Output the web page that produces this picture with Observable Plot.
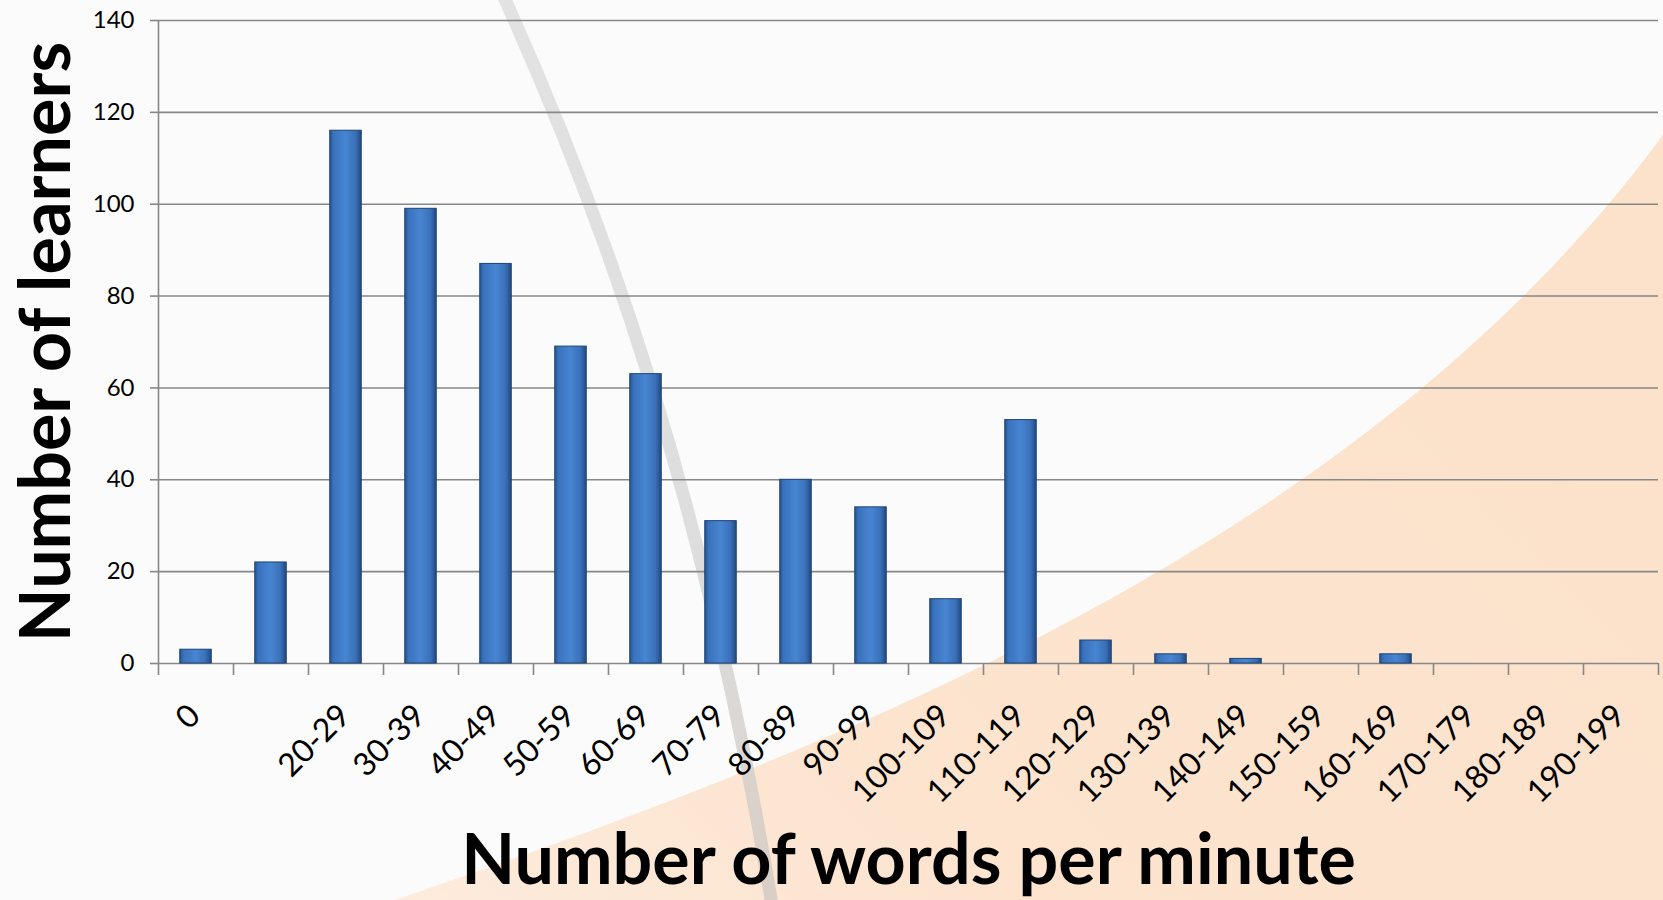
<!DOCTYPE html>
<html>
<head>
<meta charset="utf-8">
<script src="https://cdn.jsdelivr.net/npm/d3@7"></script>
<script src="https://cdn.jsdelivr.net/npm/@observablehq/plot@0.6"></script>
<style>
html, body { margin: 0; padding: 0; background: #fbfbfb; }
#wrap { position: relative; width: 1663px; height: 900px; overflow: hidden; }
#bg { position: absolute; left: 0; top: 0; }
#chart { position: absolute; left: 0; top: 0; }
</style>
</head>
<body>
<div id="wrap">
  <svg id="bg" width="1663" height="900" xmlns="http://www.w3.org/2000/svg">
    <defs>
      <linearGradient id="peach" x1="0" y1="1" x2="1" y2="0.4">
        <stop offset="0" stop-color="#fdebdc"/>
        <stop offset="0.35" stop-color="#fce4cf"/>
        <stop offset="1" stop-color="#fce2cb"/>
      </linearGradient>
      <linearGradient id="arc" x1="0" y1="0" x2="0" y2="1">
        <stop offset="0" stop-color="#dcdcdc"/>
        <stop offset="0.6" stop-color="#d6d6d6"/>
        <stop offset="1" stop-color="#cfc8c2"/>
      </linearGradient>
    </defs>
    <path d="M 395 900 C 800 760, 1350 560, 1663 135 L 1663 900 Z" fill="url(#peach)"/>
    <path d="M 503 -5 C 605 220, 705 500, 772 905" fill="none" stroke="url(#arc)" stroke-width="13" stroke-opacity="0.8"/>
  </svg>
  <div id="chart"></div>
</div>
<script>
const categories = ["0","10-19","20-29","30-39","40-49","50-59","60-69","70-79","80-89","90-99",
  "100-109","110-119","120-129","130-139","140-149","150-159","160-169","170-179","180-189","190-199"];
const tickLabels = ["0","","20-29","30-39","40-49","50-59","60-69","70-79","80-89","90-99",
  "100-109","110-119","120-129","130-139","140-149","150-159","160-169","170-179","180-189","190-199"];
const learners = [3,22,116,99,87,69,63,31,40,34,14,53,5,2,1,0,2,0,0,0];
const yTicks = [0,20,40,60,80,100,120,140];
const xTitle = "Number of words per minute";
const yTitle = "Number of learners";

const data = categories.map((c, i) => ({i, category: c, label: tickLabels[i], value: learners[i]}));
const boundaries = d3.range(categories.length + 1);
const gridColor = "#878787";

const plot = Plot.plot({
  width: 1663,
  height: 900,
  marginTop: 20,
  marginLeft: 158,
  marginRight: 5,
  marginBottom: 237,
  style: {background: "transparent", fontFamily: "Lato, sans-serif", color: "#000", overflow: "visible"},
  x: {type: "linear", domain: [0, categories.length]},
  y: {domain: [0, 140]},
  marks: [
    Plot.gridY(yTicks, {stroke: gridColor, strokeOpacity: 1, strokeWidth: 1.6}),
    Plot.axisY(yTicks, {tickSize: 8, tickPadding: 16, fontSize: 24, stroke: gridColor, strokeWidth: 1.6, label: null, tickFormat: d => String(d)}),
    Plot.axisX(boundaries, {tickSize: 12, tickFormat: () => "", stroke: gridColor, strokeWidth: 1.6, label: null}),
    Plot.ruleX([0], {stroke: gridColor, strokeWidth: 1.6}),
    Plot.rectY(data.filter(d => d.value > 0), {
      x1: d => d.i + 0.29, x2: d => d.i + 0.71, y: "value",
      fill: "url(#barGrad)", stroke: "#1e4476", strokeWidth: 1
    }),
    Plot.text(data, {
      x: d => d.i + 0.5, y: 0, text: "label", rotate: -45,
      textAnchor: "end", lineAnchor: "top", dx: -10, dy: 38, fontSize: 32, fill: "#000"
    }),
    Plot.text([yTitle], {frameAnchor: "left", textAnchor: "middle", rotate: -90, dx: -111, fontSize: 70, fontWeight: "bold", fill: "#000"}),
    Plot.text([xTitle], {frameAnchor: "bottom", textAnchor: "middle", dy: 220, fontSize: 70, fontWeight: "bold", fill: "#000"})
  ]
});

const defs = d3.select(plot).insert("defs", ":first-child");
const g = defs.append("linearGradient").attr("id", "barGrad").attr("x1", "0").attr("x2", "1").attr("y1", "0").attr("y2", "0");
[[0, "#27528f"], [0.12, "#3a72bd"], [0.5, "#4785d2"], [0.82, "#3a70b8"], [1, "#21497f"]]
  .forEach(([o, c]) => g.append("stop").attr("offset", o).attr("stop-color", c));

document.getElementById("chart").appendChild(plot);
</script>
</body>
</html>
